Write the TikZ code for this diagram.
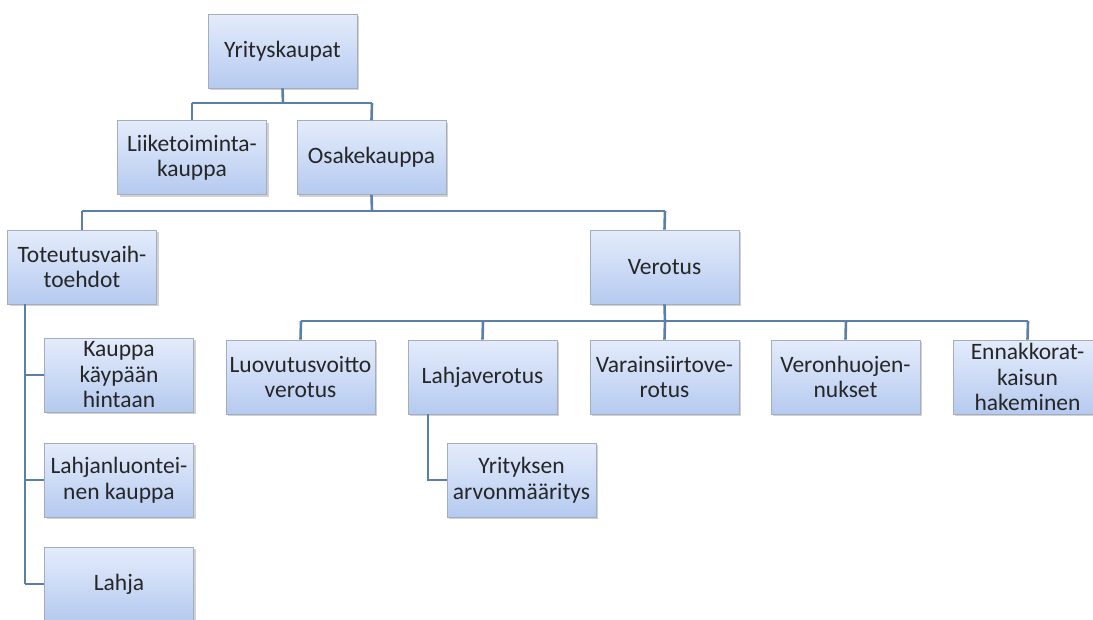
\documentclass[tikz,border=0pt]{standalone}
\usepackage{fontspec}
\setmainfont{Carlito}
\usetikzlibrary{shadows}
\definecolor{boxtop}{HTML}{E4ECFB}
\definecolor{boxbot}{HTML}{B5CAF0}
\definecolor{boxline}{HTML}{A3ADBD}
\definecolor{conn}{HTML}{5A80A8}
\begin{document}
\begin{tikzpicture}[x=1pt,y=-1pt,
  box/.style={draw=boxline, line width=0.8pt, top color=boxtop, bottom color=boxbot,
    minimum width=149pt, minimum height=74pt, inner sep=1pt, align=center,
    font=\fontsize{23.5}{25.5}\selectfont, text=black!85,
    drop shadow={shadow xshift=2pt, shadow yshift=-2pt, fill=black!35, opacity=0.5}},
  conn/.style={draw=conn, line width=2.6pt}]
\useasboundingbox (0,0) rectangle (1093,619);
\clip (0,0) rectangle (1093,619);
\fill[white] (0,0) rectangle (1093,619);
\coordinate (j1) at (283,103);
\coordinate (j1l) at (192,103);
\coordinate (j1r) at (372,103);
\coordinate (j2) at (372,211);
\coordinate (j2l) at (82,211);
\coordinate (j2r) at (665,211);
\coordinate (j3) at (665,321);
\coordinate (j3a) at (301,321);
\coordinate (j3b) at (483,321);
\coordinate (j3c) at (846,321);
\coordinate (j3d) at (1028,321);
\coordinate (t1) at (25,304);
\coordinate (t2) at (25,375);
\coordinate (t3) at (25,480);
\coordinate (t4) at (25,584);
\coordinate (l1) at (428,414);
\coordinate (l2) at (428,480);

\node[box] (yk) at (282.5,51) {Yrityskaupat};
\node[box] (lk) at (192,157.5) {Liiketoiminta-\\kauppa};
\node[box] (ok) at (371.5,157.5) {Osakekauppa};
\node[box] (tv) at (82,267) {Toteutusvaih-\\toehdot};
\node[box] (ve) at (664.5,267) {Verotus};
\node[box] (lv) at (300.5,377) {Luovutusvoitto\\verotus};
\node[box] (lj) at (482.5,377) {Lahjaverotus};
\node[box] (va) at (664.5,377) {Varainsiirtove-\\rotus};
\node[box] (vh) at (845.5,377) {Veronhuojen-\\nukset};
\node[box] (en) at (1027.5,377) {Ennakkorat-\\kaisun\\hakeminen};
\node[box] (kk) at (119,375) {Kauppa\\käypään\\hintaan};
\node[box] (ll) at (119,480) {Lahjanluontei-\\nen kauppa};
\node[box] (la) at (119,584) {Lahja};
\node[box] (ya) at (521.5,480) {Yrityksen\\arvonmääritys};

\draw[conn] (yk.south) -- (j1);
\draw[conn] (j1l) -- (j1r);
\draw[conn] (j1l) -- (lk.north);
\draw[conn] (j1r) -- (ok.north);
\draw[conn] (ok.south) -- (j2);
\draw[conn] (j2l) -- (j2r);
\draw[conn] (j2l) -- (tv.north);
\draw[conn] (j2r) -- (ve.north);
\draw[conn] (ve.south) -- (j3);
\draw[conn] (j3a) -- (j3d);
\draw[conn] (j3a) -- (lv.north);
\draw[conn] (j3b) -- (lj.north);
\draw[conn] (j3) -- (va.north);
\draw[conn] (j3c) -- (vh.north);
\draw[conn] (j3d) -- (en.north);
\draw[conn] (t1) -- (t4);
\draw[conn] (t2) -- (kk.west);
\draw[conn] (t3) -- (ll.west);
\draw[conn] (t4) -- (la.west);
\draw[conn] (l1) -- (l2) -- (ya.west);
\end{tikzpicture}
\end{document}
